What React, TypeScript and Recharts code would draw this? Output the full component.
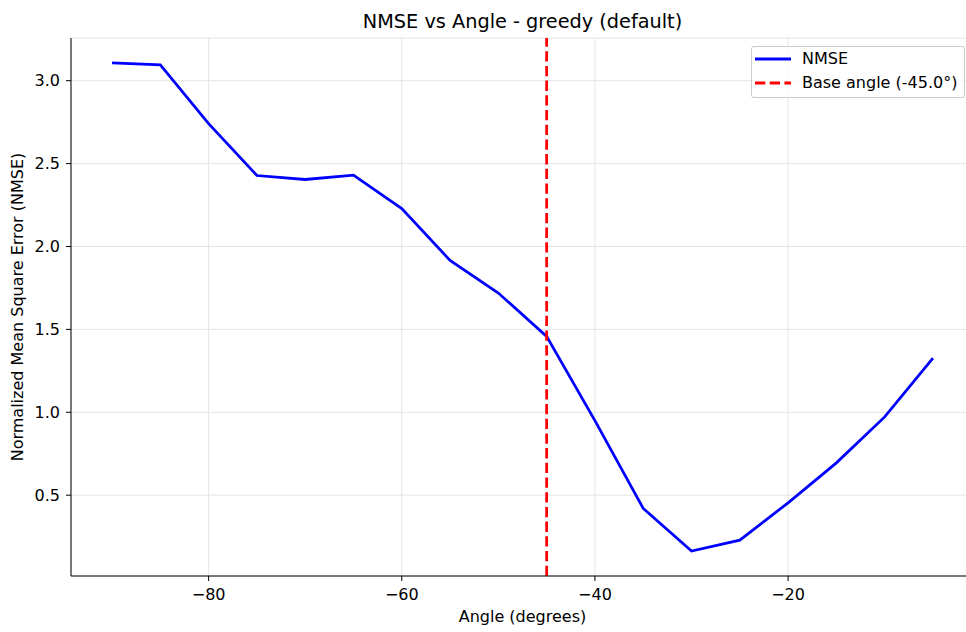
import { CartesianGrid, Label, Legend, Line, LineChart, ReferenceLine, XAxis, YAxis } from "recharts";

const angles = [-90, -85, -80, -75, -70, -65, -60, -55, -50, -45, -40, -35, -30, -25, -20, -15, -10, -5];
const nmse = [3.108, 3.096, 2.741, 2.428, 2.404, 2.43, 2.229, 1.916, 1.719, 1.458, 0.95, 0.42, 0.163, 0.229, 0.454, 0.695, 0.972, 1.327];
const xTicks = [-80, -60, -40, -20];
const yTicks = [0.5, 1.0, 1.5, 2.0, 2.5, 3.0];
const baseAngle = -45;

const data = angles.map((angle, i) => ({ angle, nmse: nmse[i] }));

const FONT = "'DejaVu Sans', sans-serif";
const tickStyle = { fontSize: 16, fill: "#000", fontFamily: FONT };
const labelStyle = { fontSize: 16, fill: "#000", fontFamily: FONT };

const fmtX = (v: number) => String(v).replace("-", "\u2212");
const fmtY = (v: number) => v.toFixed(1);

function LegendBox() {
  const rows = [
    { label: "NMSE", color: "#0000ff", dash: undefined },
    { label: `Base angle (${baseAngle.toFixed(1)}\u00b0)`, color: "#ff0000", dash: "10.3 4.4" },
  ];
  return (
    <div
      style={{
        boxSizing: "border-box",
        width: 214,
        height: 52,
        border: "1px solid #cccccc",
        borderRadius: 3,
        background: "rgba(255,255,255,0.8)",
        fontFamily: FONT,
        fontSize: 16,
        color: "#000",
        paddingLeft: 3,
      }}
    >
      {rows.map((r) => (
        <div key={r.label} style={{ display: "flex", alignItems: "center", height: 23.7 }}>
          <svg width={47} height={10} style={{ flex: "none" }}>
            <line x1={0} x2={36} y1={5} y2={5} stroke={r.color} strokeWidth={2.78} strokeDasharray={r.dash} />
          </svg>
          <span style={{ whiteSpace: "nowrap" }}>{r.label}</span>
        </div>
      ))}
    </div>
  );
}

export default function App() {
  return (
    <div style={{ position: "absolute", left: 0, top: 0, width: 966, height: 632, overflow: "hidden", background: "#fff" }}>
      <div
        style={{
          position: "absolute",
          left: 71,
          width: 903,
          top: 10,
          textAlign: "center",
          fontFamily: FONT,
          fontSize: 19.3,
          color: "#000",
        }}
      >
        NMSE vs Angle - greedy (default)
      </div>
      <LineChart width={980} height={632} data={data} margin={{ top: 38, right: 6, bottom: 0, left: 10 }}>
        <CartesianGrid stroke="#e4e4e4" strokeWidth={1} />
        <XAxis
          dataKey="angle"
          type="number"
          domain={[-94.25, -0.75]}
          ticks={xTicks}
          tickFormatter={fmtX}
          allowDataOverflow
          height={56}
          stroke="#000"
          tick={tickStyle}
          tickSize={5}
          tickMargin={8}
        >
          <Label value="Angle (degrees)" position="insideBottom" offset={10} style={labelStyle} />
        </XAxis>
        <XAxis xAxisId="top" orientation="top" dataKey="angle" type="number" domain={[-94.25, -0.75]} height={0} tick={false} tickLine={false} stroke="#000" />
        <YAxis
          type="number"
          domain={[0.0125, 3.2575]}
          ticks={yTicks}
          tickFormatter={fmtY}
          allowDataOverflow
          width={61}
          stroke="#000"
          tick={tickStyle}
          tickSize={5}
          tickMargin={6}
        >
          <Label
            value="Normalized Mean Square Error (NMSE)"
            angle={-90}
            position="insideLeft"
            offset={7}
            style={{ ...labelStyle, textAnchor: "middle" }}
          />
        </YAxis>
        <Line dataKey="nmse" stroke="#0000ff" strokeWidth={2.78} dot={false} isAnimationActive={false} />
        <ReferenceLine x={baseAngle} stroke="#ff0000" strokeWidth={2.78} strokeDasharray="10.3 4.4" />
        <Legend
          layout="vertical"
          align="center"
          verticalAlign="middle"
          content={() => <LegendBox />}
          wrapperStyle={{ position: "absolute", left: 751, top: 46, width: "auto" }}
        />
      </LineChart>
    </div>
  );
}
